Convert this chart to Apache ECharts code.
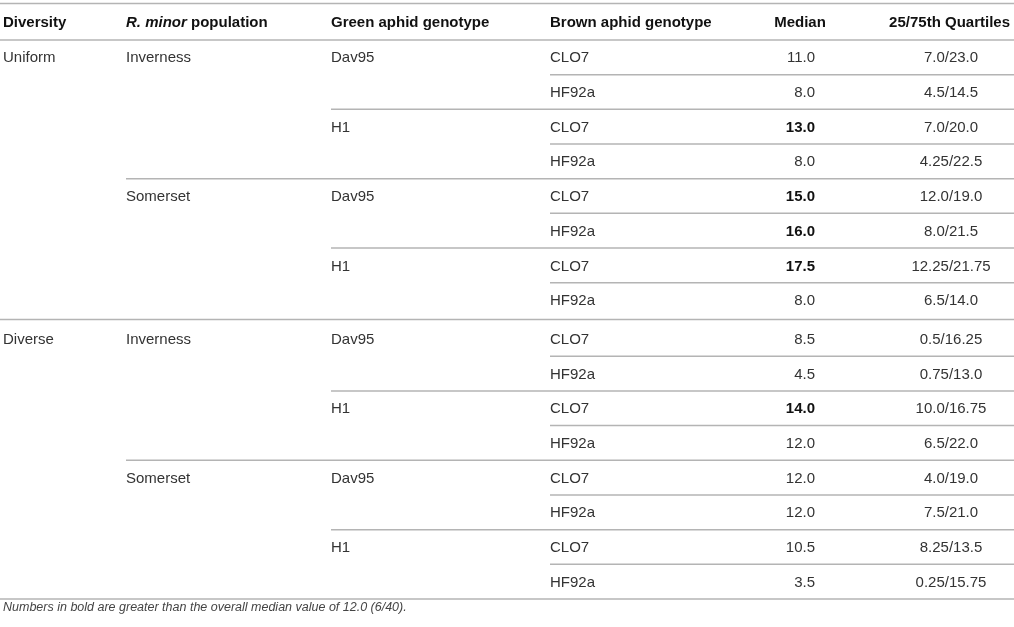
<!DOCTYPE html>
<html>
<head>
<meta charset="utf-8">
<script src="https://cdn.jsdelivr.net/npm/echarts@6/dist/echarts.min.js"></script>
<style>
  html, body { margin: 0; padding: 0; background: #fff; }
  #chart { width: 1014px; height: 627px; }
</style>
</head>
<body>
<div id="chart"></div>
<script>
// table data, one entry per row
const diversityLevels = ['Uniform', 'Diverse'];
const populations = ['Inverness', 'Somerset'];
const greenGenotypes = ['Dav95', 'H1'];
const brownGenotypes = ['CLO7', 'HF92a'];

const medians = [11.0, 8.0, 13.0, 8.0, 15.0, 16.0, 17.5, 8.0,
                 8.5, 4.5, 14.0, 12.0, 12.0, 12.0, 10.5, 3.5];
const quartiles = ['7.0/23.0', '4.5/14.5', '7.0/20.0', '4.25/22.5',
                   '12.0/19.0', '8.0/21.5', '12.25/21.75', '6.5/14.0',
                   '0.5/16.25', '0.75/13.0', '10.0/16.75', '6.5/22.0',
                   '4.0/19.0', '7.5/21.0', '8.25/13.5', '0.25/15.75'];
const headers = ['Diversity', '{i|R. minor} population', 'Green aphid genotype',
                 'Brown aphid genotype', 'Median', '25/75th Quartiles'];
const overallMedian = 12.0;
const footnote = 'Numbers in bold are greater than the overall median value of 12.0 (6/40).';

// layout
const FONT = "'Liberation Sans', Arial, sans-serif";
const TEXT = '#333';
const RULE = '#b4b4b4';
const col = { diversity: 3, population: 126, green: 331, brown: 550, median: 815, quartile: 951 };
const GROUP_GAP = 0.12;   // extra space between Uniform and Diverse blocks, in rows

const rows = medians.map((m, i) => [i + GROUP_GAP * (i >> 3), i]);

const chart = echarts.init(document.getElementById('chart'));

function txt(x, y, text, extra) {
  return {
    type: 'text',
    style: Object.assign({
      x, y, text,
      fill: TEXT,
      font: '15px ' + FONT,
      verticalAlign: 'middle',
      align: 'left'
    }, extra || {})
  };
}

function rule(x1, x2, y) {
  return {
    type: 'line',
    shape: { x1, y1: y, x2, y2: y },
    style: { stroke: RULE, lineWidth: 1.5 }
  };
}

function renderRow(params, api) {
  const i = api.value(1);
  const y = api.coord([0, api.value(0)])[1] + 1;
  const pitch = api.size([0, 1])[1];
  const X = v => api.coord([v, 0])[0];
  const right = X(1014);
  const kids = [];

  if (i % 8 === 0) kids.push(txt(X(col.diversity), y, diversityLevels[i >> 3]));
  if (i % 4 === 0) kids.push(txt(X(col.population), y, populations[(i >> 2) & 1]));
  if (i % 2 === 0) kids.push(txt(X(col.green), y, greenGenotypes[(i >> 1) & 1]));
  kids.push(txt(X(col.brown), y, brownGenotypes[i & 1]));

  const m = medians[i];
  kids.push(txt(X(col.median), y, m.toFixed(1), {
    align: 'right',
    font: (m > overallMedian ? 'bold ' : '') + '15px ' + FONT,
    fill: m > overallMedian ? '#111' : TEXT
  }));
  kids.push(txt(X(col.quartile), y, quartiles[i], { align: 'center' }));

  // rule under this row; its start depends on which grouping level changes next
  const next = i + 1;
  let start;
  if (next === medians.length || next % 8 === 0) start = 0;
  else if (next % 4 === 0) start = col.population;
  else if (next % 2 === 0) start = col.green;
  else start = col.brown;
  const gapBelow = (next % 8 === 0 && next < medians.length) ? GROUP_GAP / 2 : 0;
  kids.push(rule(X(start), right, y - 1 + pitch * (0.5 + gapBelow)));

  return { type: 'group', children: kids };
}

function renderHeader(params, api) {
  const y = api.coord([0, api.value(0)])[1];
  const pitch = api.size([0, 1])[1];
  const X = v => api.coord([v, 0])[0];
  const bold = 'bold 15px ' + FONT;
  const hx = [col.diversity, col.population, col.green, col.brown];
  const kids = hx.map((x, k) => ({
    type: 'text',
    style: {
      x: X(x), y, text: headers[k],
      fill: '#111', font: bold, verticalAlign: 'middle',
      rich: { i: { fontStyle: 'italic', fontWeight: 'bold', fontSize: 15, fontFamily: FONT, fill: '#111' } }
    }
  }));
  kids.push(txt(X(800), y, headers[4], { font: bold, fill: '#111', align: 'center' }));
  kids.push(txt(X(1010), y, headers[5], { font: bold, fill: '#111', align: 'right' }));
  kids.push(rule(X(0), X(1014), y - pitch * 0.55));
  kids.push(rule(X(0), X(1014), y + pitch * 0.5));
  return { type: 'group', children: kids };
}

chart.setOption({
  animation: false,
  title: {
    text: footnote,
    left: 0,
    top: 601,
    padding: [0, 3],
    textStyle: { fontFamily: FONT, fontSize: 12.5, fontStyle: 'italic', fontWeight: 'normal', color: '#444' }
  },
  grid: { left: 0, right: 0, top: 0, bottom: 0 },
  xAxis: { type: 'value', min: 0, max: 1014, show: false },
  yAxis: { type: 'value', inverse: true, min: -1.652, max: 16.427, show: false },
  series: [
    { type: 'custom', name: 'header', data: [[-1]], renderItem: renderHeader, silent: true },
    { type: 'custom', name: 'rows', data: rows, renderItem: renderRow, silent: true }
  ]
});
</script>
</body>
</html>
